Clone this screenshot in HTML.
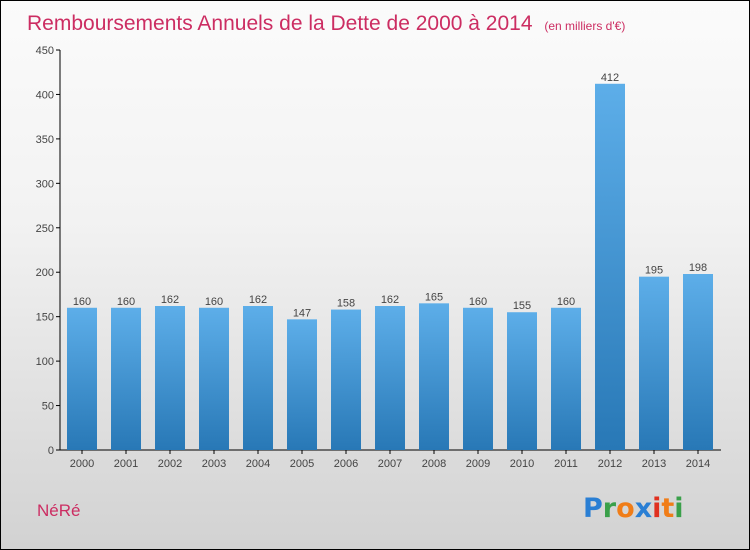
<!DOCTYPE html>
<html><head><meta charset="utf-8"><style>
body{margin:0}
#c{width:748px;height:548px;border:1px solid #000;background:linear-gradient(#fbfbfb,#f2f2f2 40%,#d2d2d2);position:relative;font-family:"Liberation Sans",sans-serif}
svg{position:absolute;left:0;top:0}
</style></head><body>
<div id="c">
<svg id="s" width="748" height="548" xmlns="http://www.w3.org/2000/svg">
<text x="26" y="29" font-size="21" fill="#cc2d62">Remboursements Annuels de la Dette de 2000 à 2014 <tspan font-size="12" dx="6">(en milliers d'€)</tspan></text>
<text x="36" y="515" font-size="17" fill="#cc2d62">NéRé</text>
<g font-size="27" font-weight="bold" font-family="'DejaVu Sans',sans-serif">
<text x="582" y="516" fill="#2a7fd4">P<tspan fill="#3aa04a">r</tspan><tspan fill="#f07d18">o</tspan><tspan fill="#2a7fd4">x</tspan><tspan fill="#e03020">i</tspan><tspan fill="#f07d18">t</tspan><tspan fill="#3aa04a">i</tspan></text>
</g>
<defs><linearGradient id="g" x1="0" y1="0" x2="0" y2="1"><stop offset="0" stop-color="#5daee9"/><stop offset="1" stop-color="#2878b6"/></linearGradient></defs>
<g id="axes"></g><g id="bars"></g>
</svg>
</div>
<script>
const years=["2000","2001","2002","2003","2004","2005","2006","2007","2008","2009","2010","2011","2012","2013","2014"];
const values=[160,160,162,160,162,147,158,162,165,160,155,160,412,195,198];
const ticks=[0,50,100,150,200,250,300,350,400,450];
const NS="http://www.w3.org/2000/svg";
const y=v=>449-v*(400/450);
const x=i=>81+i*44;
function mk(t,a,p){const e=document.createElementNS(NS,t);for(const k in a)e.setAttribute(k,a[k]);p.appendChild(e);return e;}
const ax=document.getElementById('axes'),bg=document.getElementById('bars');
const yl=mk('line',{x1:59,y1:y(450),x2:59,y2:449,stroke:'#000'},ax);


const xl=mk('line',{x1:59,y1:449,x2:720,y2:449,stroke:'#000'},ax);


ticks.forEach(t=>{
 mk('line',{x1:55,x2:59,y1:y(t),y2:y(t),stroke:'#000'},ax);
 const l=mk('text',{x:53,y:y(t)+4,'text-anchor':'end','font-size':11,fill:'#444'},ax);l.textContent=t;
 
 
});
years.forEach((yr,i)=>{
 const v=values[i];
 const r=mk('rect',{x:x(i)-15,y:y(v),width:30,height:449-y(v),fill:'url(#g)'},bg);
 
 
 const lv=mk('text',{x:x(i),y:y(v)-3,'text-anchor':'middle','font-size':11,fill:'#444'},bg);lv.textContent=v;
 
 
 mk('line',{x1:x(i),x2:x(i),y1:449,y2:453,stroke:'#000'},ax);
 const xt=mk('text',{x:x(i),y:466,'text-anchor':'middle','font-size':11,fill:'#444'},ax);xt.textContent=yr;
 
 
});
</script>
</body></html>
